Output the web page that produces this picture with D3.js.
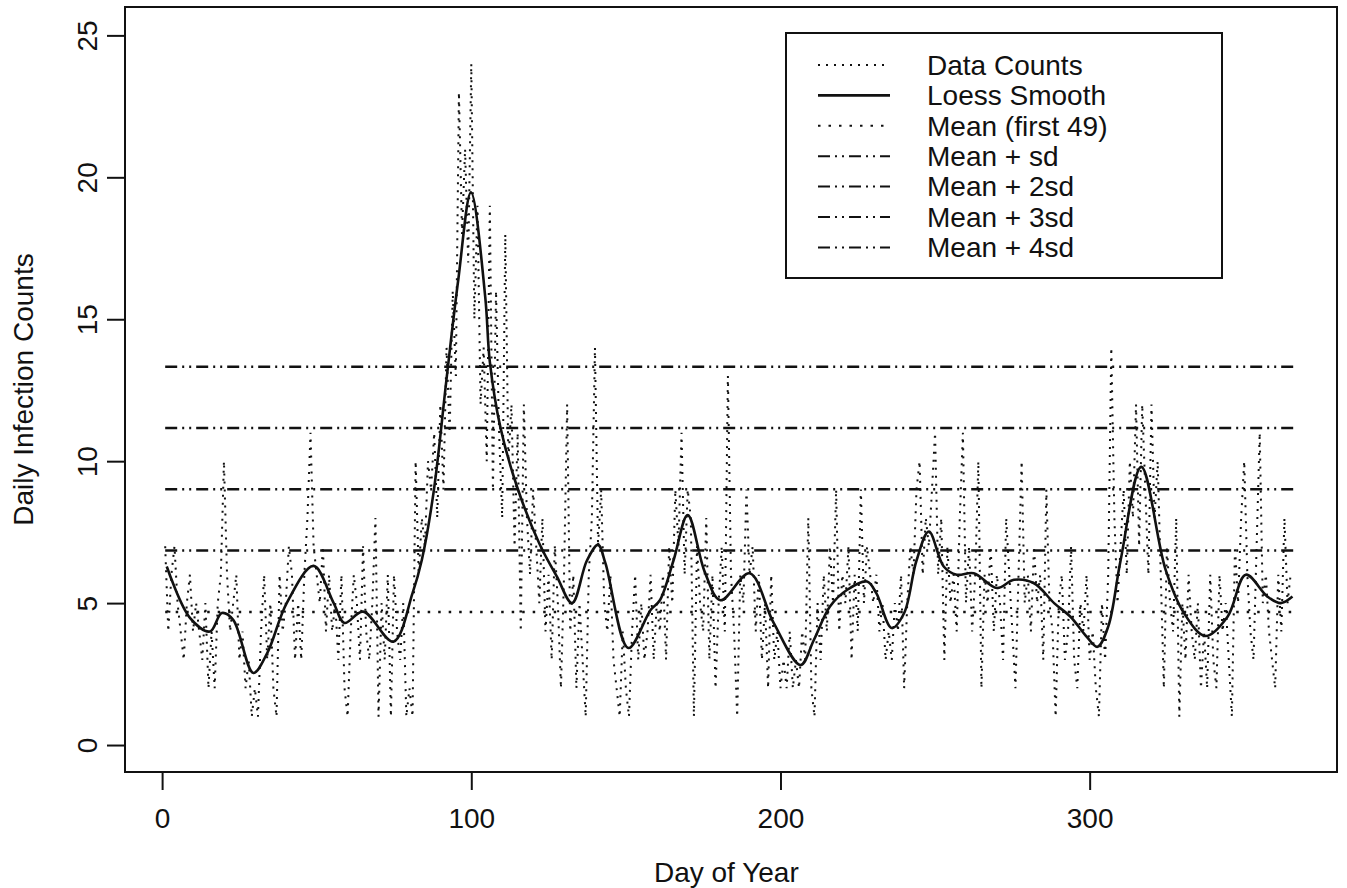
<!DOCTYPE html>
<html><head><meta charset="utf-8">
<script src="https://cdn.jsdelivr.net/npm/d3@7/dist/d3.min.js"></script>
<style>body{margin:0;background:#fff}svg{display:block}text{font-family:"Liberation Sans",Arial,sans-serif;fill:#111}</style>
</head><body><svg id="c" width="1347" height="888"></svg>
<script>
// ---- data ----
const counts = [
7,4,6,7,5,4,3,5,6,4,
5,4,3,5,2,4,2,5,6,10,
6,4,5,6,3,4,2,3,1,2,
1,4,6,3,5,2,1,6,4,5,
7,6,3,5,3,6,8,11,7,6,
5,7,4,6,4,5,3,6,2,1,
4,6,5,3,7,4,3,5,8,1,
5,3,6,1,6,4,3,5,1,2,
1,10,6,8,7,10,9,11,8,12,
9,14,11,16,13,23,18,21,17,24,
15,19,12,14,10,19,9,16,11,8,
18,10,12,7,11,4,12,8,6,9,
7,5,8,4,6,3,7,5,2,6,
12,4,6,2,5,3,1,6,8,14,
7,9,5,4,6,3,2,1,4,2,
1,4,6,3,5,3,4,6,3,5,
4,6,3,7,5,9,7,11,6,9,
8,1,7,5,4,8,3,6,2,5,
7,4,13,6,4,1,6,5,9,6,
7,4,6,3,5,2,6,3,4,2,
3,2,4,2,3,2,4,3,8,2,
1,5,3,6,4,7,5,9,4,6,
5,7,3,6,4,9,5,7,6,5,
6,4,5,3,4,3,5,4,6,2,
5,7,6,9,10,6,8,7,9,11,
6,8,3,7,5,6,4,8,11,5,
7,4,6,10,2,6,5,7,4,6,
5,3,8,6,4,2,6,10,5,6,
4,7,5,6,3,9,5,4,1,5,
6,3,4,7,3,2,5,4,6,3,
4,2,1,5,3,6,14,8,5,7,
9,6,10,8,12,7,12,9,6,12,
8,10,6,2,7,5,4,8,1,5,
3,6,4,3,5,2,4,2,6,3,
2,6,4,5,3,1,7,5,8,10,
6,4,3,7,11,5,6,4,3,2,
6,4,8,5,6];
const days = counts.map((d,i)=>i+1);

const loessDays = [1.5,9,15.5,19.3,23,29.5,34,40.3,49,55.5,59,65,74.8,81,84,87.8,92,95.8,99.9,104.5,106,109.4,114.8,122,127.7,132.6,137.4,141,143.4,150.8,158,161,165.4,170,175.5,180.6,190,197.8,206.5,210.8,216,221.6,228,231,236,240,244,248,252.8,257,262.5,270,275.5,282,288.5,293.8,299,302.5,306,310,316.7,324.5,330.5,337.5,344.6,350.5,357.5,361.8,365.6];
const loessVals = [6.29,4.48,4.0,4.65,4.41,2.54,3.24,5.0,6.31,5.0,4.3,4.7,3.64,5.35,6.52,8.9,12.9,16.4,19.47,15.8,13.5,11.2,9.1,7.1,5.93,5.0,6.5,7.05,6.4,3.42,4.76,5.1,6.5,8.1,6.1,5.1,6.05,4.3,2.82,3.7,4.88,5.47,5.76,5.35,4.12,4.65,6.5,7.52,6.29,6.0,6.05,5.53,5.82,5.7,5.0,4.52,3.82,3.46,4.17,6.5,9.8,6.2,4.65,3.84,4.52,6.0,5.23,5.0,5.23];

const meanFirst49 = 4.69;
const sdFirst49 = 2.16;
const refMultipliers = [0,1,2,3,4];
const refRange = [1, 366];

const xTicks = [0,100,200,300];
const yTicks = [0,5,10,15,20,25];
const legendLabels = ["Data Counts","Loess Smooth","Mean (first 49)","Mean + sd","Mean + 2sd","Mean + 3sd","Mean + 4sd"];

// ---- styles ----
const dotData = "2,6", dotMean = "2.5,8", dashDot = "12,5,2,5,2,5";
const FS = 28;

const svg = d3.select("#c");
const L=125, T=7, R=1337, B=772;
const x = d3.scaleLinear().domain([-12,380]).range([L,R]);
const y = d3.scaleLinear().domain([-0.95,26.0]).range([B,T]);

svg.append("rect").attr("width",1347).attr("height",888).attr("fill","#fff");

// data counts
svg.append("path").datum(days.map((d,i)=>[d,counts[i]]))
  .attr("d", d3.line().x(d=>x(d[0])).y(d=>y(d[1])))
  .attr("fill","none").attr("stroke","#111").attr("stroke-width",2)
  .attr("stroke-dasharray",dotData);

// reference lines
refMultipliers.forEach(k=>{
  const v = meanFirst49 + k*sdFirst49;
  svg.append("path").datum(refRange.map(d=>[d,v]))
    .attr("d", d3.line().x(d=>x(d[0])).y(d=>y(d[1])))
    .attr("fill","none").attr("stroke","#111")
    .attr("stroke-width", 2.5)
    .attr("stroke-dasharray", k===0?dotMean:dashDot);
});

// loess
svg.append("path").datum(loessDays.map((d,i)=>[d,loessVals[i]]))
  .attr("d", d3.line().curve(d3.curveCatmullRom.alpha(0.5)).x(d=>x(d[0])).y(d=>y(d[1])))
  .attr("fill","none").attr("stroke","#111").attr("stroke-width",2.6);

// box
svg.append("rect").attr("x",L).attr("y",T).attr("width",R-L).attr("height",B-T)
  .attr("fill","none").attr("stroke","#111").attr("stroke-width",2);

// axes
const xa = svg.append("g").attr("transform",`translate(0,${B})`)
  .call(d3.axisBottom(x).tickValues(xTicks).tickSize(18).tickPadding(18).tickFormat(d3.format("d")));
const ya = svg.append("g").attr("transform",`translate(${L},0)`)
  .call(d3.axisLeft(y).tickValues(yTicks).tickSize(18).tickFormat(d3.format("d")));
[xa,ya].forEach(g=>{g.select(".domain").remove();g.selectAll("line").attr("stroke","#111").attr("stroke-width",2);
  g.selectAll("text").attr("font-size",FS).attr("fill","#111").style("font-family","Liberation Sans, Arial, sans-serif");});
xa.selectAll("text").attr("dy","0.71em");
ya.selectAll("text").attr("transform","rotate(-90)").attr("text-anchor","middle")
  .attr("x",0).attr("y",-28).attr("dy",0);

// axis titles
svg.append("text").attr("x",(x(0)+x(365))/2).attr("y",882).attr("text-anchor","middle")
  .attr("font-size",FS).text("Day of Year");
svg.append("text").attr("transform",`translate(33,${(T+B)/2}) rotate(-90)`).attr("text-anchor","middle")
  .attr("font-size",FS).text("Daily Infection Counts");

// legend
const lg = svg.append("g");
const LX=786, LY=33, LW=436, LH=245, rowH=30.4, row0=65;
lg.append("rect").attr("x",LX).attr("y",LY).attr("width",LW).attr("height",LH)
  .attr("fill","#fff").attr("stroke","#111").attr("stroke-width",2);
const lstyles=[{d:dotData,w:2},{d:null,w:2.6},{d:dotMean,w:2},{d:dashDot,w:2},{d:dashDot,w:2},{d:dashDot,w:2},{d:dashDot,w:2}];
legendLabels.forEach((t,i)=>{
  const yy = row0 + i*rowH;
  lg.append("line").attr("x1",818).attr("x2",890).attr("y1",yy).attr("y2",yy)
    .attr("stroke","#111").attr("stroke-width",lstyles[i].w).attr("stroke-dasharray",lstyles[i].d);
  lg.append("text").attr("x",927).attr("y",yy).attr("dy","0.35em").attr("font-size",FS).text(t);
});
</script></body></html>
